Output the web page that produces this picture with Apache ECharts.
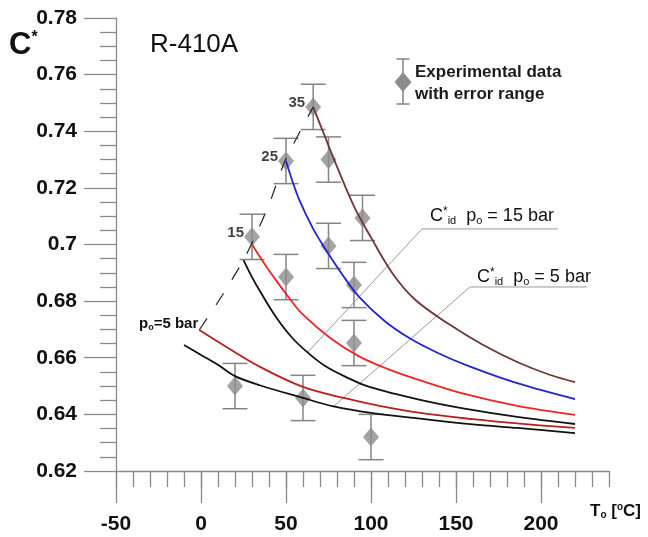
<!DOCTYPE html>
<html><head><meta charset="utf-8">
<script src="https://cdn.jsdelivr.net/npm/echarts@6/dist/echarts.min.js"></script>
<style>html,body{margin:0;padding:0;background:#fff}#c{width:648px;height:537px}</style>
</head><body><div id="c"></div>
<script>
// ---- tick labels ----
const xMajorTicks = [-50, 0, 50, 100, 150, 200];
// ---- experimental data (T_o [°C], C*, error) ----
const expT   = [20, 30, 50, 50, 60, 66, 75, 75, 90, 90, 95, 100];
const expC   = [0.650, 0.7027, 0.7295, 0.6885, 0.6458, 0.7486, 0.730, 0.6995, 0.6857, 0.6652, 0.7094, 0.632];
const expErr = [0.008, 0.008, 0.008, 0.008, 0.008, 0.008, 0.008, 0.008, 0.008, 0.008, 0.008, 0.008];
const expTag = ['', '15', '25', '', '', '35', '', '', '', '', '', ''];
// ---- model curves ----
const brownT = [66, 72, 80, 90, 100, 113, 126, 146, 166, 186, 205, 220];
const brownC = [0.7486, 0.7395, 0.7275, 0.7135, 0.7025, 0.6895, 0.6805, 0.6718, 0.6645, 0.6585, 0.654, 0.6514];
const blueT = [50, 54, 58, 66, 72, 83, 93, 108, 123, 140, 156, 186, 220];
const blueC = [0.7295, 0.722, 0.7155, 0.7055, 0.6995, 0.6895, 0.6815, 0.673, 0.6668, 0.6615, 0.6574, 0.651, 0.6454];
const redUpT = [30, 37, 44, 52, 60, 76, 93, 110, 129, 155, 186, 220];
const redUpC = [0.700, 0.6935, 0.6875, 0.681, 0.6752, 0.667, 0.6605, 0.656, 0.652, 0.6472, 0.643, 0.6398];
const blackUpT = [25, 30, 35, 44, 54, 64, 74, 86, 99, 129, 155, 186, 220];
const blackUpC = [0.6945, 0.6885, 0.6832, 0.6745, 0.6668, 0.6612, 0.6567, 0.653, 0.6497, 0.6451, 0.642, 0.6391, 0.6366];
const redLowT = [-1, 15, 35, 60, 84, 105, 129, 160, 186, 220];
const redLowC = [0.6698, 0.6638, 0.6567, 0.6497, 0.6458, 0.643, 0.6405, 0.6383, 0.6368, 0.6352];
const blackLowT = [-10, 0, 10, 20, 35, 60, 78, 100, 129, 160, 186, 220];
const blackLowC = [0.6645, 0.661, 0.6575, 0.6535, 0.6502, 0.6458, 0.6428, 0.6405, 0.6385, 0.6365, 0.6352, 0.6334];
const envT = [-1, 12.5, 25, 33, 40.6, 49.4, 66];
const envC = [0.6698, 0.682, 0.6945, 0.7044, 0.715, 0.7295, 0.7486];
// ---- leader lines for the C*_id annotations ----
const leader15T = [62.4, 130, 210];
const leader15C = [0.6617, 0.7055, 0.7055];
const leader5T = [77.6, 158.2, 227];
const leader5C = [0.6426, 0.685, 0.685];

const zip = (a, b) => a.map((v, i) => [v, b[i]]);
const FF = '"Liberation Sans", Arial, sans-serif';
const AX = '#8a8a8a';
const axLine = {color: AX, width: 1.3};

function curve(name, T, C, color, extra) {
  return Object.assign({
    name, type: 'line', data: zip(T, C), smooth: 0.35, showSymbol: false, silent: true,
    lineStyle: {color, width: 1.8}, z: 4
  }, extra || {});
}

const chart = echarts.init(document.getElementById('c'));
const option = {
  animation: false,
  backgroundColor: '#fff',
  grid: {left: 116, right: 39, top: 18, bottom: 66},
  xAxis: [{
    type: 'value', min: -50, max: 240, interval: 50, position: 'bottom',
    axisLine: {show: true, onZero: false, lineStyle: axLine},
    axisTick: {show: true, length: 32, customValues: xMajorTicks, lineStyle: axLine},
    axisLabel: {customValues: xMajorTicks, margin: 43, color: '#111', fontSize: 21, fontWeight: 'bold', fontFamily: FF},
    splitLine: {show: false}
  }, {
    type: 'value', min: -50, max: 240, interval: 10, position: 'bottom',
    axisLine: {show: false, onZero: false},
    axisTick: {show: true, length: 16, lineStyle: axLine},
    axisLabel: {show: false}, splitLine: {show: false}
  }],
  yAxis: {
    type: 'value', min: 0.62, max: 0.78, interval: 0.02,
    axisLine: {show: true, onZero: false, lineStyle: axLine},
    axisTick: {show: true, length: 32, lineStyle: axLine},
    minorTick: {show: true, splitNumber: 4, length: 16, lineStyle: axLine},
    axisLabel: {margin: 39, color: '#111', fontSize: 21, fontWeight: 'bold', fontFamily: FF,
      formatter: v => String(parseFloat(v.toFixed(2)))},
    splitLine: {show: false}
  },
  graphic: [
    {type: 'text', x: 9, y: 45, style: {text: '{c|C}{s|*}', verticalAlign: 'middle',
      rich: {c: {fontSize: 31, fontWeight: 'bold', fontFamily: FF, fill: '#111'},
             s: {fontSize: 16, fontWeight: 'bold', fontFamily: FF, fill: '#111', padding: [0, 0, 14, 0]}}}},
    {type: 'text', x: 150, y: 45, style: {text: 'R-410A', verticalAlign: 'middle', fontSize: 26, fontFamily: FF, fill: '#111'}},
    // legend symbol
    {type: 'line', shape: {x1: 403, y1: 59, x2: 403, y2: 104}, style: {stroke: '#858585', lineWidth: 1.5}},
    {type: 'line', shape: {x1: 396.5, y1: 59, x2: 409.5, y2: 59}, style: {stroke: '#858585', lineWidth: 1.5}},
    {type: 'line', shape: {x1: 396.5, y1: 104, x2: 409.5, y2: 104}, style: {stroke: '#858585', lineWidth: 1.5}},
    {type: 'polygon', shape: {points: [[403, 72], [411.5, 82], [403, 92], [394.5, 82]]}, style: {fill: '#8c8c8c'}},
    {type: 'text', x: 415, y: 72, style: {text: 'Experimental data', verticalAlign: 'middle', fontSize: 17, fontWeight: 'bold', fontFamily: FF, fill: '#1a1a1a'}},
    {type: 'text', x: 415, y: 94, style: {text: 'with error range', verticalAlign: 'middle', fontSize: 17, fontWeight: 'bold', fontFamily: FF, fill: '#1a1a1a'}},
    // annotations
    {type: 'text', x: 430, y: 216, style: {text: '{n|C}{sp|*}{sb|id}{n|  p}{sb|o}{n| = 15 bar}', verticalAlign: 'middle',
      rich: {n: {fontSize: 18, fontFamily: FF, fill: '#111'},
             sp: {fontSize: 12, fontFamily: FF, fill: '#111', padding: [0, 0, 9, 0]},
             sb: {fontSize: 11, fontFamily: FF, fill: '#111', padding: [9, 0, 0, 0]}}}},
    {type: 'text', x: 477, y: 277, style: {text: '{n|C}{sp|*}{sb|id}{n|  p}{sb|o}{n| = 5 bar}', verticalAlign: 'middle',
      rich: {n: {fontSize: 18, fontFamily: FF, fill: '#111'},
             sp: {fontSize: 12, fontFamily: FF, fill: '#111', padding: [0, 0, 9, 0]},
             sb: {fontSize: 11, fontFamily: FF, fill: '#111', padding: [9, 0, 0, 0]}}}},
    {type: 'text', x: 139, y: 324, style: {text: '{b|p}{sb|o}{b|=5 bar}', verticalAlign: 'middle',
      rich: {b: {fontSize: 15, fontWeight: 'bold', fontFamily: FF, fill: '#111'},
             sb: {fontSize: 9, fontWeight: 'bold', fontFamily: FF, fill: '#111', padding: [8, 0, 0, 0]}}}},
    {type: 'text', x: 590, y: 511, style: {text: '{b|T}{sb|o}{b| [}{sp|o}{b|C]}', verticalAlign: 'middle',
      rich: {b: {fontSize: 17, fontWeight: 'bold', fontFamily: FF, fill: '#111'},
             sb: {fontSize: 10, fontWeight: 'bold', fontFamily: FF, fill: '#111', padding: [9, 0, 0, 0]},
             sp: {fontSize: 10, fontWeight: 'bold', fontFamily: FF, fill: '#111', padding: [0, 0, 8, 0]}}}}
  ],
  series: [
    {name: 'leader15', type: 'line', data: zip(leader15T, leader15C), showSymbol: false, silent: true,
     lineStyle: {color: '#9a9a9a', width: 1}, z: 2},
    {name: 'leader5', type: 'line', data: zip(leader5T, leader5C), showSymbol: false, silent: true,
     lineStyle: {color: '#9a9a9a', width: 1}, z: 2},
    {name: 'errors', type: 'custom', silent: true, z: 3,
     data: expT.map((t, i) => [t, expC[i] - expErr[i], expC[i] + expErr[i]]),
     encode: {x: 0, y: [1, 2]},
     renderItem: (params, api) => {
       const x = api.value(0);
       const lo = api.coord([x, api.value(1)]);
       const hi = api.coord([x, api.value(2)]);
       const st = {stroke: '#858585', lineWidth: 1.5};
       return {type: 'group', children: [
         {type: 'line', shape: {x1: lo[0], y1: lo[1], x2: hi[0], y2: hi[1]}, style: st},
         {type: 'line', shape: {x1: lo[0] - 12.5, y1: lo[1], x2: lo[0] + 12.5, y2: lo[1]}, style: st},
         {type: 'line', shape: {x1: hi[0] - 12.5, y1: hi[1], x2: hi[0] + 12.5, y2: hi[1]}, style: st}
       ]};
     }},
    {name: 'Experimental data', type: 'scatter', symbol: 'diamond', symbolSize: [16, 19], silent: true, z: 3,
     itemStyle: {color: '#8c8c8c'},
     data: expT.map((t, i) => ({value: [t, expC[i]],
       label: {show: !!expTag[i], formatter: expTag[i], position: 'left', distance: 0, offset: [0, -4],
               fontSize: 15, fontWeight: 'bold', fontFamily: FF, color: '#111'}}))},
    curve('envelope', envT, envC, '#222', {smooth: 0.2, lineStyle: {color: '#222', width: 1.2, type: [14, 16]}}),
    curve('35 bar', brownT, brownC, '#6e3636'),
    curve('25 bar', blueT, blueC, '#2424d0'),
    curve('15 bar', redUpT, redUpC, '#ee2424'),
    curve('C*id 15 bar', blackUpT, blackUpC, '#111'),
    curve('5 bar', redLowT, redLowC, '#b82020'),
    curve('C*id 5 bar', blackLowT, blackLowC, '#111')
  ]
};
chart.setOption(option);
</script>
</body></html>
